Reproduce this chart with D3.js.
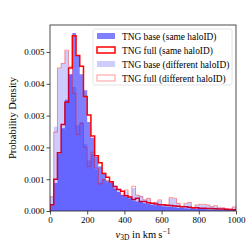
<!DOCTYPE html>
<html>
<head>
<meta charset="utf-8">
<script src="https://cdn.jsdelivr.net/npm/d3@7"></script>
<style>
  body { margin: 0; background: #fff; }
  svg { display: block; }
  text { font-family: "Liberation Serif", "DejaVu Serif", serif; fill: #000; }
</style>
</head>
<body>
<div id="chart"></div>
<script>
// 50 bins of 20 km/s between 0 and 1000
var binEdges = d3.range(0, 1001, 20);

// TNG base (same haloID)
var baseSame = [0.00018, 0.00088, 0.0018, 0.0026, 0.0035, 0.0043, 0.0056, 0.0049, 0.0043, 0.0038,
  0.0028, 0.0023, 0.0017, 0.0014, 0.0012, 0.00095, 0.0009, 0.0007, 0.0006, 0.0005,
  0.00045, 0.0004, 0.00033, 0.0003, 0.00028, 0.00024, 0.00022, 0.0002, 0.00018, 0.00017,
  0.00015, 0.00014, 0.00013, 0.00012, 0.0001, 0.0001, 0.00009, 0.00008, 0.00008, 0.00007,
  0.00006, 0.00006, 0.00005, 0.00005, 0.00005, 0.00004, 0.00004, 0.00004, 0.00003, 0.00003];

// TNG full (same haloID)
var fullSame = [0.0002, 0.0010, 0.00183, 0.00272, 0.00342, 0.0045, 0.00551, 0.00489, 0.00455, 0.0036,
  0.00302, 0.00236, 0.00174, 0.00152, 0.00118, 0.00106, 0.00092, 0.00077, 0.00068, 0.00062,
  0.00048, 0.00044, 0.00036, 0.0004, 0.0003, 0.0003, 0.00026, 0.00024, 0.00022, 0.0002,
  0.0002, 0.00018, 0.00017, 0.00016, 0.00015, 0.00013, 0.00013, 0.00012, 0.0001, 0.0001,
  0.00009, 0.00009, 0.00008, 0.00008, 0.00007, 0.00006, 0.00006, 0.00005, 0.00005, 0.00004];

// TNG base (different haloID)
var baseDiff = [0.00045, 0.00265, 0.00449, 0.00464, 0.00504, 0.0043, 0.0039, 0.0027, 0.0028, 0.0021,
  0.0016, 0.0018, 0.0013, 0.0009, 0.001, 0.0009, 0.0009, 0.0008, 0.0007, 0.0005,
  0.00062, 0.00045, 0.00072, 0.0005, 0.00048, 0.00035, 0.0004, 0.00026, 0.00028, 0.00033,
  0.0002, 0.0002, 0.0004, 0.00038, 0.00024, 0.00015, 0.00022, 0.00027, 0.0001, 0.00018,
  0.0002, 0.0002, 0.00018, 0.00013, 0.00015, 0.0001, 0.0001, 0.00008, 0.00006, 0.00012];

// TNG full (different haloID)
var fullDiff = [0.00045, 0.00248, 0.0045, 0.00464, 0.00506, 0.00455, 0.0037, 0.0024, 0.00275, 0.002,
  0.0014, 0.00185, 0.00135, 0.00085, 0.001, 0.00095, 0.0009, 0.0007, 0.00068, 0.0005,
  0.00066, 0.00045, 0.00078, 0.0005, 0.00045, 0.00035, 0.0004, 0.00024, 0.00027, 0.00035,
  0.00019, 0.00019, 0.00042, 0.0004, 0.00024, 0.00014, 0.00024, 0.00027, 0.00008, 0.00019,
  0.00021, 0.00021, 0.00019, 0.00014, 0.00017, 0.0001, 0.0001, 0.00008, 0.00006, 0.00013];

var xTicks = [0, 200, 400, 600, 800, 1000];
var yTicks = [0, 0.001, 0.002, 0.003, 0.004, 0.005];

var legendLabels = ["TNG base (same haloID)", "TNG full (same haloID)",
  "TNG base (different haloID)", "TNG full (different haloID)"];

var svgWidth = 249, svgHeight = 249;
var margin = { top: 25, right: 13, bottom: 38, left: 50 };
var width = svgWidth - margin.left - margin.right;
var height = svgHeight - margin.top - margin.bottom;

var svg = d3.select("#chart").append("svg")
  .attr("width", svgWidth)
  .attr("height", svgHeight);

var chartGroup = svg.append("g")
  .attr("transform", `translate(${margin.left}, ${margin.top})`);

var xScale = d3.scaleLinear().domain([0, 1000]).range([0, width]);
var yScale = d3.scaleLinear().domain([0, 0.00585]).range([height, 0]);

chartGroup.append("clipPath").attr("id", "clip")
  .append("rect").attr("width", width).attr("height", height);

// turn bin values into step points
function stepPoints(values) {
  var pts = values.map((v, i) => [binEdges[i], v]);
  pts.push([binEdges[values.length], values[values.length - 1]]);
  return pts;
}

var area = d3.area()
  .x(d => xScale(d[0]))
  .y0(yScale(0))
  .y1(d => yScale(d[1]))
  .curve(d3.curveStepAfter);

var line = d3.line()
  .x(d => xScale(d[0]))
  .y(d => yScale(d[1]))
  .curve(d3.curveStepAfter);

function outline(values) {
  var pts = stepPoints(values);
  var path = line(pts);
  return `M${xScale(0)},${yScale(0)}L` + path.slice(1) + `L${xScale(1000)},${yScale(0)}`;
}

var plot = chartGroup.append("g").attr("clip-path", "url(#clip)");

plot.append("path")
  .attr("d", area(stepPoints(baseSame)))
  .attr("fill", "blue").attr("fill-opacity", 0.5);

plot.append("path")
  .attr("d", outline(fullSame))
  .attr("fill", "none").attr("stroke", "red").attr("stroke-width", 1.5);

plot.append("path")
  .attr("d", area(stepPoints(baseDiff)))
  .attr("fill", "blue").attr("fill-opacity", 0.2);

plot.append("path")
  .attr("d", outline(fullDiff))
  .attr("fill", "none").attr("stroke", "red").attr("stroke-opacity", 0.4).attr("stroke-width", 1);

// axes
var bottomAxis = d3.axisBottom(xScale).tickValues(xTicks).tickSize(3.5).tickPadding(2)
  .tickFormat(d3.format("d"));
var leftAxis = d3.axisLeft(yScale).tickValues(yTicks).tickSize(3.5).tickPadding(2)
  .tickFormat(d3.format(".3f"));

var xAxis = chartGroup.append("g")
  .attr("transform", `translate(0, ${height})`)
  .call(bottomAxis);
var yAxis = chartGroup.append("g").call(leftAxis);

[xAxis, yAxis].forEach(function(ax) {
  ax.select(".domain").remove();
  ax.selectAll("line").attr("stroke", "#222").attr("stroke-width", 0.8);
  ax.selectAll("text").attr("font-size", "9px")
    .attr("font-family", "Liberation Serif, serif").attr("fill", "#000");
});

// frame
chartGroup.append("rect")
  .attr("width", width).attr("height", height)
  .attr("fill", "none").attr("stroke", "#222").attr("stroke-width", 0.8);

// axis titles
var xTitle = chartGroup.append("text")
  .attr("x", width / 2).attr("y", height + 27)
  .attr("text-anchor", "middle")
  .attr("font-size", "10.5px");
xTitle.append("tspan").attr("font-style", "italic").text("v");
xTitle.append("tspan").attr("font-size", "7.5px").attr("dy", 2).text("3D");
xTitle.append("tspan").attr("dy", -2).text(" in km\u2009s");
xTitle.append("tspan").attr("font-size", "7.5px").attr("dy", -4).text("\u22121");

chartGroup.append("text")
  .attr("transform", `translate(${-34}, ${height / 2}) rotate(-90)`)
  .attr("text-anchor", "middle")
  .attr("font-size", "10.5px")
  .text("Probability Density");

// legend
var legend = chartGroup.append("g").attr("transform", "translate(43, 4)");
legend.append("rect")
  .attr("width", 139).attr("height", 56).attr("rx", 2)
  .attr("fill", "#fff").attr("fill-opacity", 0.8)
  .attr("stroke", "#ddd").attr("stroke-width", 0.8);

var swatchStyles = [
  { fill: "blue", fillOpacity: 0.5, stroke: "none", strokeOpacity: 1, sw: 0 },
  { fill: "none", fillOpacity: 0, stroke: "red", strokeOpacity: 1, sw: 1.5 },
  { fill: "blue", fillOpacity: 0.2, stroke: "none", strokeOpacity: 1, sw: 0 },
  { fill: "none", fillOpacity: 0, stroke: "red", strokeOpacity: 0.4, sw: 1 }
];

legendLabels.forEach(function(label, i) {
  var row = legend.append("g").attr("transform", `translate(4, ${4 + i * 14})`);
  var s = swatchStyles[i];
  row.append("rect")
    .attr("x", 0).attr("y", 0).attr("width", 18).attr("height", 6)
    .attr("fill", s.fill).attr("fill-opacity", s.fillOpacity)
    .attr("stroke", s.stroke).attr("stroke-opacity", s.strokeOpacity)
    .attr("stroke-width", s.sw);
  row.append("text")
    .attr("x", 25).attr("y", 6.5)
    .attr("font-size", "9.4px")
    .text(label);
});
</script>
</body>
</html>
